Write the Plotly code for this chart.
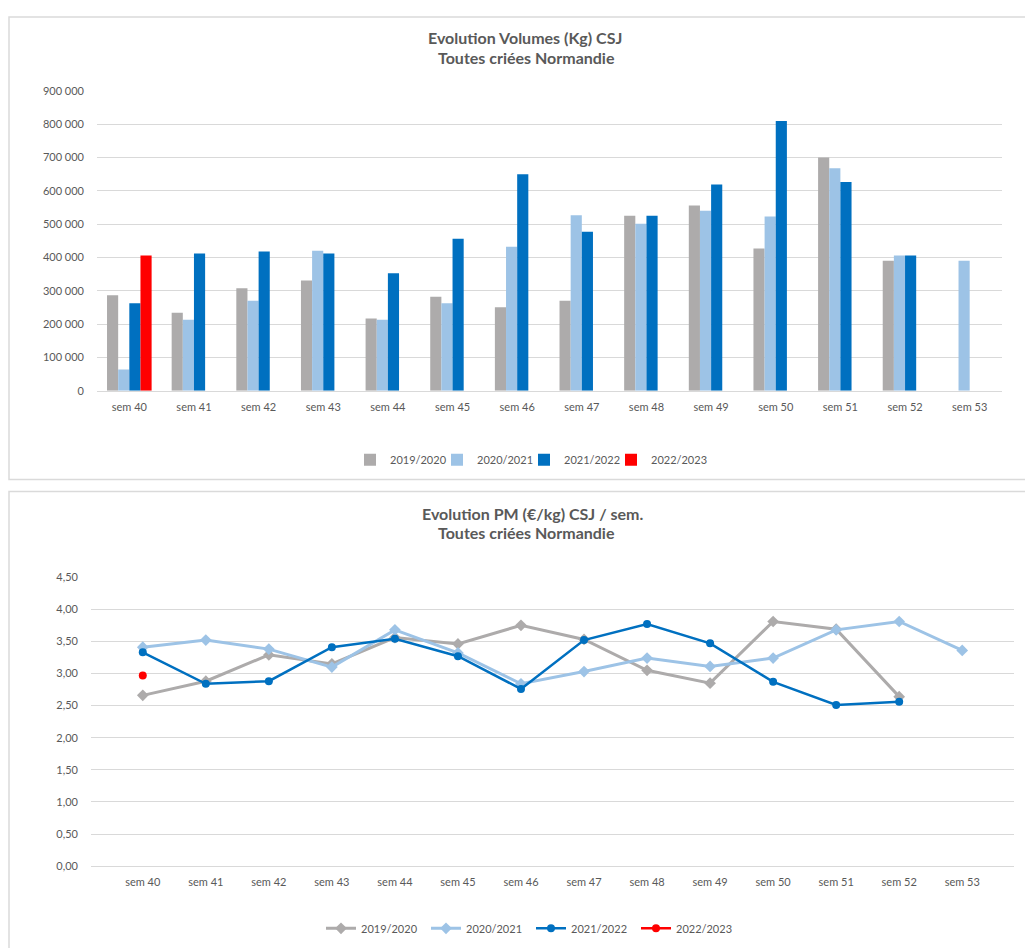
import plotly.graph_objects as go

weeks = ["sem 40", "sem 41", "sem 42", "sem 43", "sem 44", "sem 45", "sem 46",
         "sem 47", "sem 48", "sem 49", "sem 50", "sem 51", "sem 52", "sem 53"]
seasons = ["2019/2020", "2020/2021", "2021/2022", "2022/2023"]

vol_1920 = [287000, 234000, 308000, 331000, 217000, 282000, 251000, 270000, 525000, 556000, 427000, 700000, 390000, None]
vol_2021 = [64000, 213000, 270000, 420000, 213000, 263000, 432000, 527000, 501000, 540000, 523000, 668000, 406000, 390000]
vol_2122 = [263000, 412000, 418000, 412000, 353000, 456000, 650000, 477000, 525000, 619000, 810000, 627000, 406000, None]
vol_2223 = [406000, None, None, None, None, None, None, None, None, None, None, None, None, None]

pm_1920 = [2.66, 2.88, 3.29, 3.15, 3.56, 3.46, 3.75, 3.53, 3.05, 2.85, 3.81, 3.69, 2.64, None]
pm_2021 = [3.41, 3.52, 3.38, 3.10, 3.68, 3.32, 2.84, 3.03, 3.24, 3.11, 3.24, 3.68, 3.81, 3.36]
pm_2122 = [3.33, 2.84, 2.88, 3.41, 3.54, 3.27, 2.76, 3.52, 3.77, 3.47, 2.87, 2.51, 2.56, None]
pm_2223 = [2.97, None, None, None, None, None, None, None, None, None, None, None, None, None]

colors = ["#ADABAB", "#9DC3E6", "#0070C0", "#FF0000"]
W, H = 1033, 948
OFF = 8  # page body margin offset
FONT = "Lato"
TXT = "#595959"
GRID = "#D9D9D9"


def px(x):
    return (x - OFF) / W


def py(y):
    return 1 - (y - OFF) / H


fig = go.Figure()

vols = [vol_1920, vol_2021, vol_2122, vol_2223]
for i, (name, vals, c) in enumerate(zip(seasons, vols, colors)):
    fig.add_trace(go.Bar(x=weeks, y=vals, name=name, marker=dict(color=c, line=dict(width=0)),
                         xaxis="x", yaxis="y", legend="legend",
                         legendwidth=42 if i < 3 else 62))

pms = [pm_1920, pm_2021, pm_2122, pm_2223]
symbols = ["diamond", "diamond", "circle", "circle"]
widths = [3, 3, 2.5, 2.5]
for name, vals, c, s, w in zip(seasons, pms, colors, symbols, widths):
    fig.add_trace(go.Scatter(x=weeks, y=vals, name=name, mode="lines+markers",
                             line=dict(color=c, width=w),
                             marker=dict(symbol=s, size=9 if s == "diamond" else 8, color=c),
                             xaxis="x2", yaxis="y2", legend="legend2"))

axis_font = dict(family=FONT, size=11, color=TXT)
leg_font = dict(family=FONT, size=11, color=TXT)

fig.update_layout(
    width=W, height=H,
    margin=dict(l=0, r=0, t=0, b=0),
    paper_bgcolor="white", plot_bgcolor="white",
    separators=", ",
    barmode="group", bargap=0.31, bargroupgap=0,
    font=axis_font,
    xaxis=dict(domain=[px(97), px(1002)], anchor="y", showgrid=False, showline=True,
               linecolor=GRID, linewidth=1, ticks="", tickfont=axis_font, ticklabelstandoff=6),
    yaxis=dict(domain=[py(389), py(85)], anchor="x", range=[0, 900000], dtick=100000,
               tickformat=",d", showgrid=True, gridcolor=GRID, gridwidth=1, zeroline=False,
               showline=False, ticks="", tickfont=axis_font, ticklabelstandoff=12),
    xaxis2=dict(domain=[px(91), px(1014)], anchor="y2", showgrid=False, showline=True,
                linecolor=GRID, linewidth=1, ticks="", tickfont=axis_font, ticklabelstandoff=6),
    yaxis2=dict(domain=[py(871), py(578)], anchor="x2", range=[0, 4.5], dtick=0.5,
                tickformat=".2f", showgrid=True, gridcolor=GRID, gridwidth=1, zeroline=False,
                showline=False, ticks="", tickfont=axis_font, ticklabelstandoff=12),
    legend=dict(orientation="h", x=px(350), xanchor="left", y=py(459), yanchor="middle",
                font=leg_font, itemwidth=30, entrywidthmode="pixels",
                bgcolor="rgba(0,0,0,0)", traceorder="normal"),
    legend2=dict(orientation="h", x=px(321), xanchor="left", y=py(934), yanchor="middle",
                 font=leg_font, itemwidth=30, entrywidth=60, entrywidthmode="pixels",
                 bgcolor="rgba(0,0,0,0)", traceorder="normal"),
    showlegend=True,
)

# panel borders
fig.add_shape(type="rect", xref="paper", yref="paper", x0=px(9), x1=px(1060), y0=py(479), y1=py(10),
              line=dict(color="#DADADA", width=1.5), fillcolor="rgba(0,0,0,0)", layer="below")
fig.add_shape(type="rect", xref="paper", yref="paper", x0=px(9), x1=px(1060), y0=py(990), y1=py(491),
              line=dict(color="#DADADA", width=1.5), fillcolor="rgba(0,0,0,0)", layer="below")

title_font = dict(family=FONT, size=16, color=TXT)
fig.add_annotation(text="<b>Evolution Volumes (Kg) CSJ</b>", xref="paper", yref="paper",
                   x=px(525), y=py(31), xanchor="center", yanchor="middle", showarrow=False, font=title_font)
fig.add_annotation(text="<b>Toutes criées Normandie</b>", xref="paper", yref="paper",
                   x=px(526), y=py(51), xanchor="center", yanchor="middle", showarrow=False, font=title_font)
fig.add_annotation(text="<b>Evolution PM (€/kg) CSJ / sem.</b>", xref="paper", yref="paper",
                   x=px(532), y=py(513), xanchor="center", yanchor="middle", showarrow=False, font=title_font)
fig.add_annotation(text="<b>Toutes criées Normandie</b>", xref="paper", yref="paper",
                   x=px(526), y=py(533), xanchor="center", yanchor="middle", showarrow=False, font=title_font)

fig.write_html("out.html")
